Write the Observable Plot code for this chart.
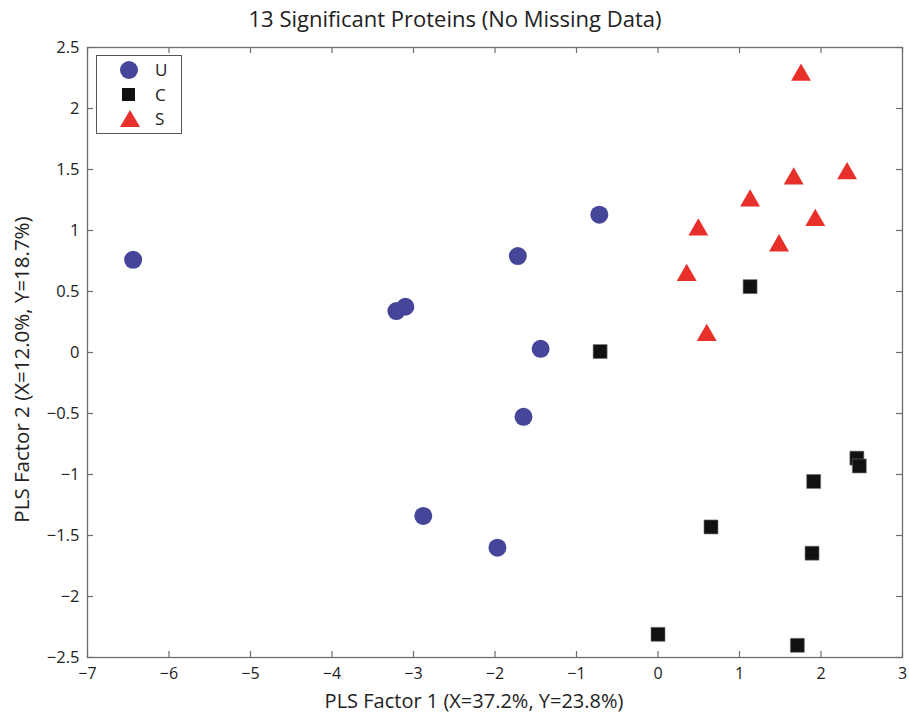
<!DOCTYPE html>
<html>
<head>
<meta charset="utf-8">
<script src="https://cdn.jsdelivr.net/npm/d3@7"></script>
<script src="https://cdn.jsdelivr.net/npm/@observablehq/plot@0.6"></script>
<style>
  html, body { margin: 0; padding: 0; background: #fff; }
  #wrap { position: relative; width: 909px; height: 713px; font-family: "Open Sans", sans-serif; }
  #title { position: absolute; left: 0; top: 0; width: 910px; text-align: center; font-size: 22px; line-height: 24px; padding-top: 6px; color: #222; }
  #chart { position: absolute; left: 0; top: 0; }
  #legend { position: absolute; left: 96px; top: 55px; width: 86px; height: 79px; border: 1px solid #555; background: #fff; box-sizing: border-box; }
  .row { position: absolute; left: 0; height: 24px; width: 85px; font-size: 17px; line-height: 24px; color: #222; }
  .row svg { position: absolute; left: 22px; top: 0; }
  .row span { position: absolute; left: 58px; top: 0px; }
</style>
</head>
<body>
<div id="wrap">
  <div id="chart"></div>
  <div id="title">13 Significant Proteins (No Missing Data)</div>
  <div id="legend"></div>
</div>
<script>
// Group U (circles)
const uX = [-6.44, -3.21, -3.10, -1.72, -0.72, -1.44, -1.65, -2.88, -1.97];
const uY = [0.76, 0.34, 0.375, 0.79, 1.13, 0.03, -0.527, -1.34, -1.60];
// Group C (squares)
const cX = [-0.71, 1.13, 2.44, 2.47, 1.91, 0.65, 1.89, 0.00, 1.71];
const cY = [0.008, 0.54, -0.866, -0.93, -1.057, -1.43, -1.645, -2.31, -2.40];
// Group S (triangles)
const sX = [1.755, 1.665, 2.32, 1.13, 1.93, 0.495, 1.485, 0.352, 0.598];
const sY = [2.275, 1.425, 1.467, 1.243, 1.084, 1.007, 0.876, 0.633, 0.141];

const groups = ["U", "C", "S"];
const colors = ["#45469a", "#111111", "#e8302a"];
const symbols = ["circle", "square", "triangle"];

const xTicks = [-7, -6, -5, -4, -3, -2, -1, 0, 1, 2, 3];
const yTicks = [-2.5, -2, -1.5, -1, -0.5, 0, 0.5, 1, 1.5, 2, 2.5];

const xLabel = "PLS Factor 1 (X=37.2%, Y=23.8%)";
const yLabel = "PLS Factor 2 (X=12.0%, Y=18.7%)";

const toRows = (xs, ys) => xs.map((x, i) => ({x, y: ys[i]}));
const U = toRows(uX, uY), C = toRows(cX, cY), S = toRows(sX, sY);

const W = 909, H = 713;
const mL = 87, mR = 7, mT = 47, mB = 56;
const innerW = W - mL - mR, innerH = H - mT - mB;
const tl = 6;

const chart = Plot.plot({
  width: W, height: H,
  marginLeft: mL, marginRight: mR, marginTop: mT, marginBottom: mB,
  style: {fontFamily: "Open Sans, sans-serif", fontSize: "16px", color: "#222", background: "#fff"},
  x: {domain: [-7, 3], ticks: xTicks, tickFormat: d3.format(""), label: null},
  y: {domain: [-2.5, 2.5], ticks: yTicks, tickFormat: d3.format(""), label: null},
  marks: [
    Plot.frame({stroke: "#6e6e6e", strokeWidth: 1.3}),
    Plot.tickX(xTicks, {x: d => d, insetTop: innerH - tl, stroke: "#6e6e6e", strokeWidth: 1.2}),
    Plot.tickX(xTicks, {x: d => d, insetBottom: innerH - tl, stroke: "#6e6e6e", strokeWidth: 1.2}),
    Plot.tickY(yTicks, {y: d => d, insetRight: innerW - tl, stroke: "#6e6e6e", strokeWidth: 1.2}),
    Plot.tickY(yTicks, {y: d => d, insetLeft: innerW - tl, stroke: "#6e6e6e", strokeWidth: 1.2}),
    Plot.axisX({ticks: xTicks, tickSize: 0, tickPadding: 10, tickFormat: d3.format(""), fontSize: 16, label: null}),
    Plot.axisY({ticks: yTicks, tickSize: 0, tickPadding: 8, tickFormat: d3.format(""), fontSize: 16.5, label: null}),
    Plot.dot(U, {x: "x", y: "y", symbol: "circle", r: 9, fill: colors[0], stroke: "none"}),
    Plot.dot(C, {x: "x", y: "y", symbol: "square", r: 7.9, fill: colors[1], stroke: "#777", strokeWidth: 0.6}),
    Plot.dot(S, {x: "x", y: "y", symbol: "triangle", r: 7.4, fill: colors[2], stroke: "none"}),
    Plot.text([xLabel], {frameAnchor: "bottom", textAnchor: "middle", lineAnchor: "middle", dx: -21, dy: 44, fontSize: 20, fill: "#222", text: d => d}),
    Plot.text([yLabel], {frameAnchor: "left", textAnchor: "middle", lineAnchor: "middle", dx: -65, dy: 17, rotate: -90, fontSize: 20.5, fill: "#222", text: d => d})
  ]
});
document.getElementById("chart").appendChild(chart);

// Legend
const leg = document.getElementById("legend");
const sym = [
  '<svg width="20" height="24"><circle cx="10" cy="12" r="9" fill="' + colors[0] + '"/></svg>',
  '<svg width="20" height="24"><rect x="3" y="5" width="13" height="13" fill="' + colors[1] + '"/></svg>',
  '<svg width="22" height="24"><path d="M11,3 L21,20 L1,20 Z" fill="' + colors[2] + '"/></svg>'
];
groups.forEach((g, i) => {
  const row = document.createElement("div");
  row.className = "row";
  row.style.top = (2 + i * 24.5) + "px";
  row.innerHTML = sym[i] + "<span>" + g + "</span>";
  leg.appendChild(row);
});
</script>
</body>
</html>
